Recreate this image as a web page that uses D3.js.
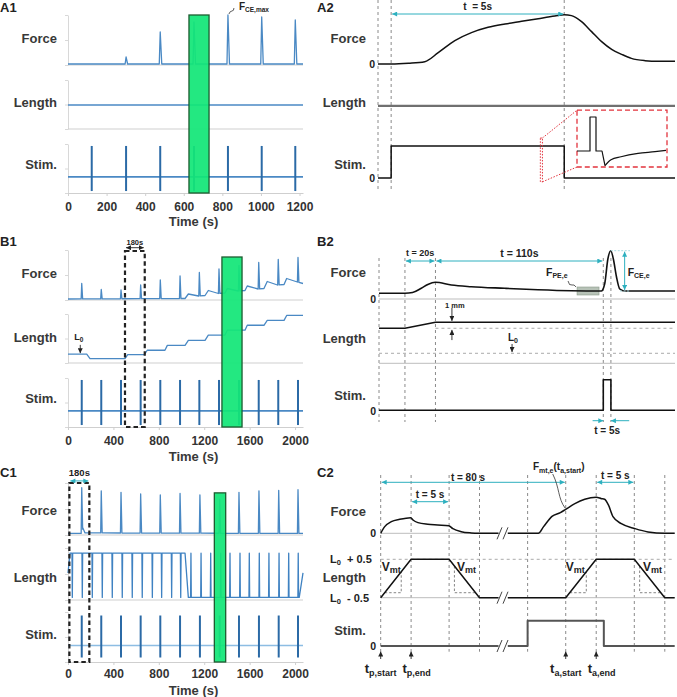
<!DOCTYPE html>
<html><head><meta charset="utf-8">
<script src="https://cdn.jsdelivr.net/npm/d3@7/dist/d3.min.js"></script>
<style>
html,body{margin:0;padding:0;background:#fff;}
svg text{font-family:"Liberation Sans",Arial,"DejaVu Sans",sans-serif;}
</style></head><body>
<script>
// ================= DATA =================
// ---- A1 (fixed length, twitches every ~180 s)
const a1Ticks=[0,200,400,600,800,1000,1200];
const a1StimTimes=[123,301,478,653,829,1004,1178];
const a1SpikeTimes=[301,478,653,829,1004,1178];
const a1SpikePeaks=[16,66,86,100,96,90];
const a1ForceRest=2;
const a1LengthLevel=49;
const a1StimBase=33;
const a1StimRange=[4,96];
const a1Highlight=[627,731];

// ---- B1 (stepwise stretch)
const b1Ticks=[0,400,800,1200,1600,2000];
const b1StimTimes=[121,293,467,640,813,987,1157,1330,1506,1680,1852,2026];
const b1SpikePeaks=[33,21,20,30,40,48,55,62,69,75,81,85];
const b1ForceRest=[[0,2],[1000,3],[1031,3],[1060,12],[1150,8],[1207,9],[1236,19],[1325,13],[1383,14],[1403,23],[1500,18],[1559,19],[1579,28],[1675,22],[1726,23],[1755,37],[1845,30],[1903,31],[1926,43],[2020,36],[2070,33]];
const b1Length=[[0,18],[165,18],[194,9],[502,9],[526,17],[672,17],[698,26],[854,26],[875,36],[1031,36],[1060,46],[1207,46],[1236,57],[1383,57],[1403,67],[1559,67],[1579,77],[1726,77],[1755,87],[1903,87],[1926,97],[2070,97]];
const b1StimBase=33;
const b1StimRange=[4,96];
const b1Highlight=[1356,1533];
const b1Window=[502,676];

// ---- C1 (length cycling)
const c1StimTimes=[121,293,467,640,813,987,1162,1336,1506,1682,1856,2026];
const c1SpikePeaks=[91,85,82,79,77,80,77,69,82,85,86,87];
const c1ForceRest=[[0,3],[126,3],[130,14],[150,4],[2070,3]];
const c1LenKeys=[[0,52],[18,90],[1031,90],[1060,5],[2037,5],[2070,52]];
const c1LenHighDips=[38,126,214,302,390,478,566,654,743,825,913,993];
const c1LenLowPulses=[1083,1172,1257,1345,1427,1515,1597,1685,1770,1859,1944,2028];
const c1LenHigh=90, c1LenLow=5;
const c1StimBase=33;
const c1StimRange=[9,93];
const c1Highlight=[1289,1389];
const c1Window=[12,188];

// ---- A2 (zoom of one tetanus, seconds)
const a2Marks=[-0.38,0,5];
const a2Force=[[-0.38,0],[0,0],[0.5,1.5],[0.97,4.7],[1.36,22.7],[1.84,46.7],[2.32,62.7],[2.8,73.3],[3.29,80],[3.77,85.3],[4.25,90.7],[4.73,96],[5,98.7],[5.21,96.7],[5.5,84.7],[5.79,64.7],[6.08,44.7],[6.37,29.3],[6.66,19.3],[6.94,11.3],[7.33,6.7],[7.72,5.3],[8.2,5.3]];
const a2LengthLevel=47;
const a2Stim=[[-0.38,0],[0,0],[0,1],[5,1],[5,0],[8.2,0]];
const a2InsetStep=[[0,0],[13,0],[13,1],[19,1],[19,0],[25,0],[28,-0.43]];
const a2InsetTail=[[28,-0.43],[34,-0.26],[44,-0.17],[61,-0.07],[78,-0.02],[89,0.02]];
const a2InsetSrc=[[4.31,4.37],[-0.12,1.25]];

// ---- B2 (single stretch + tetanus)
const b2Marks=[-17,0,20,130,135];
const b2Force=[[-17,11.4],[0,11.4],[5,13],[10.7,21.4],[15,29],[19.9,33.4],[30.4,28],[43.5,24.6],[65.4,21.4],[87.2,18.6],[109,16.6],[128.7,16],[130.9,30],[133,80],[134.9,96.6],[136.6,80],[138.6,45],[140.8,20],[144,16],[177,16]];
const b2Length=[[-17,4.17],[0,4.17],[20,5.17],[177,5.17]];
const b2PreStretch=4.17, b2L0=0;
const b2Stim=[[-17,0],[130,0],[130,1],[135,1],[135,0],[177,0]];
const b2PEbox=[[112.8,127.2],[8,24]];
const b2CEarrow=[144,16,96.6];

// ---- C2 (passive / active cycles)
const c2Marks=[0,4,9,13,75,80,84,89,93];
const c2Force1=[[0,0],[0.53,13.3],[1.4,23.3],[2.5,28],[3.95,31.3],[4.25,26.7],[4.9,21.3],[6.2,18],[7.5,16.7],[8.95,15.3],[9.5,9.3],[10.6,3.3],[11.9,0.7],[12.8,0],[15.5,0]];
const c2Force2=[[72.4,0],[76.4,0],[77.1,13.3],[78.2,34],[79.3,41.3],[80,48],[81.2,59.3],[82.5,68],[84,72],[84.7,69.3],[85.1,68],[85.6,56.7],[86.2,33.3],[87.3,19.3],[89.1,9.3],[90.8,2.7],[93,0],[94.3,0]];
const c2Len1=[[0,-0.5],[4,0.5],[9,0.5],[13,-0.5],[15.5,-0.5]];
const c2Len2=[[72.4,-0.5],[80,-0.5],[84,0.5],[89,0.5],[93,-0.5],[94.3,-0.5]];
const c2Stim1=[[0,0],[15.5,0]];
const c2Stim2=[[72.4,0],[75,0],[75,1],[85,1],[85,0],[94.3,0]];
const c2SlopeTri=[[[0.52,-0.37],[2.7,-0.37],[2.7,0.175]],[[9.7,0.325],[9.7,-0.37],[12.48,-0.37]],[[80.52,-0.37],[82.7,-0.37],[82.7,0.175]],[[89.7,0.325],[89.7,-0.37],[92.48,-0.37]]];
const c2VmtAt=[[1.4,0.31],[11.3,0.31],[81.25,0.31],[91.4,0.31]];
const c2TimeMarks=[[0,"p,start"],[4,"p,end"],[80,"a,start"],[84,"a,end"]];

// ================= DRAWING =================
const BLUE="#4a89c4", DBLUE="#2b6aa6", CYAN="#2eb0bf", GRAY="#cfcfcf";
const svg=d3.select("body").append("svg").attr("width",677).attr("height",697).style("display","block");
const defs=svg.append("defs");
function mk(id,color,w,h){defs.append("marker").attr("id",id).attr("viewBox","0 0 10 10").attr("refX",10).attr("refY",5)
  .attr("markerWidth",w).attr("markerHeight",h).attr("markerUnits","userSpaceOnUse").attr("orient","auto-start-reverse")
  .append("path").attr("d","M0,0L10,5L0,10z").attr("fill",color);}
mk("ac",CYAN,6,5); mk("ak","#222",5,5);

function txt(x,y,s,o={}){return svg.append("text").attr("x",x).attr("y",y).attr("text-anchor",o.a||"start")
  .attr("font-size",o.s||13).attr("font-weight","bold").attr("fill",o.c||"#383838").style("white-space","pre").text(s);}
function rich(x,y,parts,a){const t=svg.append("text").attr("x",x).attr("y",y).attr("text-anchor",a||"start")
  .attr("font-weight","bold").attr("fill","#222").style("white-space","pre");let sh=0;
  parts.forEach(p=>{const d=p[2]||0;t.append("tspan").attr("font-size",p[1]).attr("dy",d-sh).text(p[0]);sh=d;});return t;}
function path(pts,xS,yS,o={}){return svg.append("path").datum(pts)
  .attr("d",d3.line().x(d=>xS(d[0])).y(d=>yS(d[1])).curve(o.curve||d3.curveLinear))
  .attr("fill","none").attr("stroke",o.c||"#111").attr("stroke-width",o.w||1.5)
  .attr("stroke-dasharray",o.dash||null).attr("stroke-linejoin","round");}
function seg(x1,y1,x2,y2,o={}){return svg.append("line").attr("x1",x1).attr("y1",y1).attr("x2",x2).attr("y2",y2)
  .attr("stroke",o.c||"#111").attr("stroke-width",o.w||1).attr("stroke-dasharray",o.dash||null)
  .attr("marker-end",o.me?`url(#${o.me})`:null).attr("marker-start",o.ms?`url(#${o.ms})`:null);}

// -------- left panels frame --------
function frame(xS,rows,ticks,pad,timeY){
  rows.forEach((yS,i)=>{
    const g=svg.append("g").attr("transform",`translate(${xS.range()[0]},0)`)
      .call(d3.axisLeft(yS).tickValues([0,50,100]).tickSize(3).tickSizeOuter(0).tickFormat(""));
    g.selectAll("path,line").attr("stroke","#d8d8d8");
    if(i<rows.length-1) seg(xS.range()[0],yS(0),xS.range()[1],yS(0),{c:GRAY});
  });
  const yS=rows[rows.length-1];
  const g=svg.append("g").attr("transform",`translate(0,${yS(0)})`)
    .call(d3.axisBottom(xS).tickValues(ticks).tickFormat(d3.format("d")).tickSize(3).tickSizeOuter(0).tickPadding(pad));
  g.attr("font-family",'"Liberation Sans",Arial,sans-serif');
  g.select(".domain").attr("stroke",GRAY); g.selectAll(".tick line").attr("stroke",GRAY);
  g.selectAll("text").attr("font-size",12).attr("font-weight","bold").attr("fill","#333");
  txt(193.5,timeY,"Time (s)",{a:"middle",s:13});
}
function rowLabels(x,ys){["Force","Length","Stim."].forEach((s,i)=>txt(x,ys[i],s,{a:"end",s:13}));}
function spikeTrace(restPts,times,peaks){
  const rest=d3.scaleLinear().domain(restPts.map(d=>d[0])).range(restPts.map(d=>d[1]));
  let pts=restPts.filter(p=>!times.some(t=>p[0]>t-5&&p[0]<t+8)).slice();
  times.forEach((t,i)=>pts.push([t-5,rest(t-5)],[t,peaks[i]],[t+8,rest(t+8)]));
  return pts.sort((a,b)=>a[0]-b[0]);
}
function stims(xS,yS,times,base,range,baseColor){
  seg(xS.range()[0],yS(base),xS.range()[1],yS(base),{c:baseColor,w:1.6});
  times.forEach(t=>seg(xS(t),yS(range[0]),xS(t),yS(range[1]),{c:DBLUE,w:2}));
}
function green(xS,r,y0,y1){svg.append("rect").attr("x",xS(r[0])).attr("y",y0).attr("width",xS(r[1])-xS(r[0])).attr("height",y1-y0)
  .attr("fill","#12e677").attr("fill-opacity",0.93).attr("stroke","#1d5c30").attr("stroke-width",1.3);}
function windowRect(xS,r,y0,y1){svg.append("rect").attr("x",xS(r[0])).attr("y",y0).attr("width",xS(r[1])-xS(r[0])).attr("height",y1-y0)
  .attr("fill","none").attr("stroke","#222").attr("stroke-width",2.2).attr("stroke-dasharray","4.5,3");}

// ===== A1 =====
const xA1=d3.scaleLinear().domain([0,1218]).range([68,303]);
const yA1F=d3.scaleLinear().domain([0,100]).range([65,15]);
const yA1L=d3.scaleLinear().domain([0,100]).range([129,80]);
const yA1S=d3.scaleLinear().domain([0,100]).range([193,144]);
frame(xA1,[yA1F,yA1L,yA1S],a1Ticks,6,226);
path(spikeTrace([[0,a1ForceRest],[1218,a1ForceRest]],a1SpikeTimes,a1SpikePeaks),xA1,yA1F,{c:BLUE,w:1.3});
path([[0,a1LengthLevel],[1218,a1LengthLevel]],xA1,yA1L,{c:BLUE,w:1.3});
stims(xA1,yA1S,a1StimTimes,a1StimBase,a1StimRange,BLUE);
green(xA1,a1Highlight,yA1F(100),yA1S(0));
rowLabels(57,[43,106.5,169]);
txt(0,12,"A1",{s:13,c:"#222"});
{const px=xA1(a1SpikeTimes[3]),py=yA1F(a1SpikePeaks[3]);
 svg.append("path").attr("d",`M${px+1},${py-1} q1,-3 3,-3 q2,0 2,-3`).attr("fill","none").attr("stroke","#333").attr("stroke-width",0.8);
 rich(px+11,py-5,[["F",10],["CE,max",6.5,2]]);}

// ===== B1 =====
const xB1=d3.scaleLinear().domain([0,2070]).range([68,303]);
const yB1F=d3.scaleLinear().domain([0,100]).range([300,250]);
const yB1L=d3.scaleLinear().domain([0,100]).range([363,314]);
const yB1S=d3.scaleLinear().domain([0,100]).range([427,378]);
frame(xB1,[yB1F,yB1L,yB1S],b1Ticks,6,460.5);
path(spikeTrace(b1ForceRest,b1StimTimes,b1SpikePeaks),xB1,yB1F,{c:BLUE,w:1.3});
path(b1Length,xB1,yB1L,{c:BLUE,w:1.3});
stims(xB1,yB1S,b1StimTimes,b1StimBase,b1StimRange,BLUE);
windowRect(xB1,b1Window,yB1F(98),yB1S(0));
seg(xB1(b1Window[0])+1,yB1F(104.6),xB1(b1Window[1])-1,yB1F(104.6),{c:"#222",w:0.9,ms:"ak",me:"ak"});
txt((xB1(b1Window[0])+xB1(b1Window[1]))/2,244.8,"180s",{a:"middle",s:7.5,c:"#222"});
green(xB1,b1Highlight,yB1F(86),yB1S(0));
rowLabels(57,[277.5,341.5,403]);
txt(0,245.5,"B1",{s:13,c:"#222"});
{const x=xB1(108); rich(x-6,yB1L(46),[["L",9],["0",6.5,2]]); seg(x,yB1L(37),x,yB1L(20),{c:"#222",w:0.9,me:"ak"});}

// ===== C1 =====
const xC1=d3.scaleLinear().domain([0,2070]).range([68,303]);
const yC1F=d3.scaleLinear().domain([0,100]).range([535,483]);
const yC1L=d3.scaleLinear().domain([0,100]).range([600,548]);
const yC1S=d3.scaleLinear().domain([0,100]).range([662,612]);
frame(xC1,[yC1F,yC1L,yC1S],b1Ticks,4.5,694.5);
path(spikeTrace(c1ForceRest,c1StimTimes,c1SpikePeaks),xC1,yC1F,{c:BLUE,w:1.3});
{let pts=c1LenKeys.slice();
 c1LenHighDips.forEach(d=>pts.push([d-3,c1LenHigh],[d,c1LenLow],[d+3,c1LenHigh]));
 c1LenLowPulses.forEach(p=>pts.push([p-3,c1LenLow],[p,c1LenHigh],[p+3,c1LenLow]));
 pts.sort((a,b)=>a[0]-b[0]);
 path(pts,xC1,yC1L,{c:"#3f82c2",w:1.3});}
stims(xC1,yC1S,c1StimTimes,c1StimBase,c1StimRange,"#8dbde3");
windowRect(xC1,c1Window,yC1F(100),yC1S(0));
seg(xC1(c1Window[0])+1,yC1F(104),xC1(c1Window[1])-1,yC1F(104),{c:CYAN,w:1,ms:"ac",me:"ac"});
txt((xC1(c1Window[0])+xC1(c1Window[1]))/2,475.5,"180s",{a:"middle",s:9.5,c:"#222"});
green(xC1,c1Highlight,yC1F(81),yC1S(0));
rowLabels(57,[515,581.5,639]);
txt(0,477,"C1",{s:13,c:"#222"});

// ===== A2 =====
const xA2=d3.scaleLinear().domain([-0.38,8.2]).range([378,675]);
const yA2F=d3.scaleLinear().domain([0,100]).range([64,14]);
const yA2L=d3.scaleLinear().domain([0,100]).range([129,80]);
const yA2S=d3.scaleLinear().domain([0,1]).range([178,146]);
a2Marks.forEach(t=>seg(xA2(t),0,xA2(t),192,{c:"#8a8a8a",w:1,dash:"3,3"}));
path(a2Force,xA2,yA2F,{curve:d3.curveMonotoneX,w:1.5});
path([[-0.38,a2LengthLevel],[8.2,a2LengthLevel]],xA2,yA2L,{c:"#707070",w:2.2});
path(a2Stim,xA2,yA2S,{w:1.5});
seg(xA2(0)+1,14,xA2(5)-1,14,{c:CYAN,w:1,ms:"ac",me:"ac"});
txt((xA2(0)+xA2(5))/2,9.5,"t  = 5s",{a:"middle",s:10,c:"#222"});
txt(375,68,"0",{a:"end",s:10.5,c:"#222"}); txt(375,181.5,"0",{a:"end",s:10.5,c:"#222"});
rowLabels(366,[43,106.5,169]);
txt(317,12,"A2",{s:13,c:"#222"});
{const xI=d3.scaleLinear().domain([0,90]).range([577,667]);
 const yI=d3.scaleLinear().domain([0,1]).range([151,117]);
 svg.append("rect").attr("x",xI(0)).attr("y",yI(1.2)).attr("width",xI(90)-xI(0)).attr("height",yI(-0.47)-yI(1.2))
   .attr("fill","#fff").attr("stroke","#e2333d").attr("stroke-width",1.3).attr("stroke-dasharray","5,3");
 path(a2InsetStep,xI,yI,{w:1.2});
 path(a2InsetTail,xI,yI,{w:1.2,curve:d3.curveMonotoneX});
 const sx0=xA2(a2InsetSrc[0][0]),sx1=xA2(a2InsetSrc[0][1]),sy0=yA2S(a2InsetSrc[1][1]),sy1=yA2S(a2InsetSrc[1][0]);
 svg.append("rect").attr("x",sx0).attr("y",sy0).attr("width",sx1-sx0).attr("height",sy1-sy0)
   .attr("fill","none").attr("stroke","#e2333d").attr("stroke-width",1).attr("stroke-dasharray","1.5,1.5");
 seg(sx1,sy0,xI(0),yI(1.2),{c:"#e2333d",dash:"1.5,1.5"});
 seg(sx1,sy1,xI(0),yI(-0.47),{c:"#e2333d",dash:"1.5,1.5"});}

// ===== B2 =====
const xB2=d3.scaleLinear().domain([-17,177]).range([379,675]);
const yB2F=d3.scaleLinear().domain([0,100]).range([299,249]);
const yB2L=d3.scaleLinear().domain([-1.67,6.55]).range([363.3,314]);
const yB2S=d3.scaleLinear().domain([0,1]).range([410.3,379.7]);
b2Marks.forEach(t=>seg(xB2(t),258,xB2(t),422,{c:"#8a8a8a",w:1,dash:"3,3"}));
seg(xB2(-17),yB2F(0),xB2(177),yB2F(0),{c:"#bdbdbd"});
seg(xB2(-17),yB2L(-1.67),xB2(177),yB2L(-1.67),{c:"#bdbdbd"});
seg(xB2(20),yB2L(b2PreStretch),xB2(177),yB2L(b2PreStretch),{c:"#aaa",dash:"3,3"});
seg(xB2(-17),yB2L(b2L0),xB2(177),yB2L(b2L0),{c:"#aaa",dash:"3,3"});
svg.append("rect").attr("x",xB2(b2PEbox[0][0])).attr("y",yB2F(b2PEbox[1][1])).attr("width",xB2(b2PEbox[0][1])-xB2(b2PEbox[0][0]))
  .attr("height",yB2F(b2PEbox[1][0])-yB2F(b2PEbox[1][1])).attr("fill","#9fae9f").attr("fill-opacity",0.75).attr("stroke","#8a9a8a").attr("stroke-width",0.6);
path(b2Force,xB2,yB2F,{curve:d3.curveMonotoneX,w:1.6});
path(b2Length,xB2,yB2L,{w:1.5});
path(b2Stim,xB2,yB2S,{w:1.6});
seg(xB2(0)+1,261,xB2(20)-1,261,{c:CYAN,w:1,ms:"ac",me:"ac"});
seg(xB2(20)+1,261,xB2(130)-1,261,{c:CYAN,w:1,ms:"ac",me:"ac"});
txt(xB2(10),255.5,"t = 20s",{a:"middle",s:9,c:"#222"});
txt(xB2(75),256.5,"t = 110s",{a:"middle",s:10.5,c:"#222"});
{const [t,lo,hi]=b2CEarrow;
 seg(xB2(134.9),yB2F(hi),xB2(147.5),yB2F(hi),{c:"#a8dbe0",dash:"2,1.5"});
 seg(xB2(141),yB2F(lo),xB2(147.5),yB2F(lo),{c:"#a8dbe0",dash:"2,1.5"});
 seg(xB2(t),yB2F(lo)-1,xB2(t),yB2F(hi)+1,{c:CYAN,w:1,ms:"ac",me:"ac"});
 rich(xB2(t)+3,275.5,[["F",10.5],["CE,e",7,2.5]]);}
{const bx=xB2(b2PEbox[0][0]),by=yB2F(b2PEbox[1][1]);
 svg.append("path").attr("d",`M${bx-1},${by} q-2,-3 -4,-2 q-3,1 -4,-4`).attr("fill","none").attr("stroke","#333").attr("stroke-width",0.8);
 rich(bx-31,275.5,[["F",10.5],["PE,e",7,2.5]]);}
seg(xB2(123),420.7,xB2(130),420.7,{c:CYAN,w:1,me:"ac"});
seg(xB2(147),420.7,xB2(135),420.7,{c:CYAN,w:1,me:"ac"});
txt(xB2(132.5),434,"t = 5s",{a:"middle",s:10,c:"#222"});
txt(xB2(26.3),307.5,"1 mm",{s:7.5,c:"#222"});
seg(xB2(30.8),yB2L(7.55),xB2(30.8),yB2L(5.4),{c:"#222",w:0.9,me:"ak"});
seg(xB2(30.8),yB2L(2.2),xB2(30.8),yB2L(3.9),{c:"#222",w:0.9,me:"ak"});
rich(xB2(67.5),340.5,[["L",10],["0",7,2.5]]);
seg(xB2(70.2),yB2L(1.55),xB2(70.2),yB2L(0.2),{c:"#222",w:0.9,me:"ak"});
txt(376,303,"0",{a:"end",s:10.5,c:"#222"}); txt(376,414.5,"0",{a:"end",s:10.5,c:"#222"});
rowLabels(366,[276.5,342.5,399.5]);
txt(317,246,"B2",{s:13,c:"#222"});

// ===== C2 =====
const xC2=d3.scaleLinear().domain([0,15.5,72.4,94.3]).range([380.7,498.5,507.8,674.7]);
const yC2F=d3.scaleLinear().domain([0,100]).range([533.3,483.3]);
const yC2L=d3.scaleLinear().domain([-0.5,0.5]).range([597.7,559.3]);
const yC2S=d3.scaleLinear().domain([0,1]).range([646,620.7]);
c2Marks.forEach(t=>seg(xC2(t),475,xC2(t),651.7,{c:"#8a8a8a",w:1,dash:"3,3"}));
[[0,15.5],[72.4,94.3]].forEach(r=>{
  seg(xC2(r[0]),yC2F(0),xC2(r[1]),yC2F(0),{c:"#bdbdbd"});
  seg(xC2(r[0]),yC2L(-0.5),xC2(r[1]),yC2L(-0.5),{c:"#bdbdbd"});});
seg(xC2(0),yC2L(0.5),xC2(94.3),yC2L(0.5),{c:"#aaa",dash:"3,3"});
c2SlopeTri.forEach(tri=>path([tri[0],tri[1],tri[2]],xC2,yC2L,{c:"#777",w:0.9,dash:"2.5,2"}));
path(c2Force1,xC2,yC2F,{curve:d3.curveMonotoneX,w:1.5});
path(c2Force2,xC2,yC2F,{curve:d3.curveMonotoneX,w:1.5});
path(c2Len1,xC2,yC2L,{w:1.5}); path(c2Len2,xC2,yC2L,{w:1.5});
path(c2Stim1,xC2,yC2S,{c:"#555",w:2}); path(c2Stim2,xC2,yC2S,{c:"#555",w:2});
[yC2F(0),yC2L(-0.5),yC2S(0)].forEach(y=>{
  seg(497,y+6,502,y-6,{c:"#444",w:1}); seg(503,y+6,508,y-6,{c:"#444",w:1});});
seg(xC2(0)+1,482.3,xC2(80)-1,482.3,{c:CYAN,w:1,ms:"ac",me:"ac"});
seg(xC2(4)+1,501.7,xC2(9)-1,501.7,{c:CYAN,w:1,ms:"ac",me:"ac"});
seg(xC2(84)+1,482.3,xC2(89)-1,482.3,{c:CYAN,w:1,ms:"ac",me:"ac"});
txt(468,480.8,"t = 80 s",{a:"middle",s:10,c:"#222"});
txt(xC2(6.5),497.8,"t = 5 s",{a:"middle",s:10,c:"#222"});
txt(xC2(86.5),479,"t = 5 s",{a:"middle",s:10,c:"#222"});
rich(533,470,[["F",10],["mt,e",7,2.5],["(t",10,0],["a,start",7,2.5],[")",10,0]]);
{const ax=xC2(80),ay=yC2F(48);
 svg.append("path").attr("d",`M${ax-13},${474} C${ax-6},${488} ${ax-8},${498} ${ax-0.5},${ay-1}`).attr("fill","none").attr("stroke","#333").attr("stroke-width",0.8);}
c2VmtAt.forEach(p=>rich(xC2(p[0]),yC2L(p[1])+4,[["V",12],["mt",9,2.5]],"middle"));
c2TimeMarks.forEach((m,i)=>{const x=xC2(m[0]);
  seg(x,659,x,651.5,{c:"#222",w:0.9,me:"ak"});
  rich(x+(i%2?5.5:0),672.5,[["t",13],[m[1],9,3]],"middle");});
txt(376,537,"0",{a:"end",s:10.5,c:"#222"}); txt(376,650,"0",{a:"end",s:10.5,c:"#222"});
txt(366,516,"Force",{a:"end",s:13}); txt(366,581.5,"Length",{a:"end",s:13}); txt(366,635,"Stim.",{a:"end",s:13});
rich(330,562.5,[["L",11],["0",7.5,2.5],["  + 0.5",11,0]]);
rich(330,601.5,[["L",11],["0",7.5,2.5],["  - 0.5",11,0]]);
txt(317,477,"C2",{s:13,c:"#222"});
</script></body></html>
